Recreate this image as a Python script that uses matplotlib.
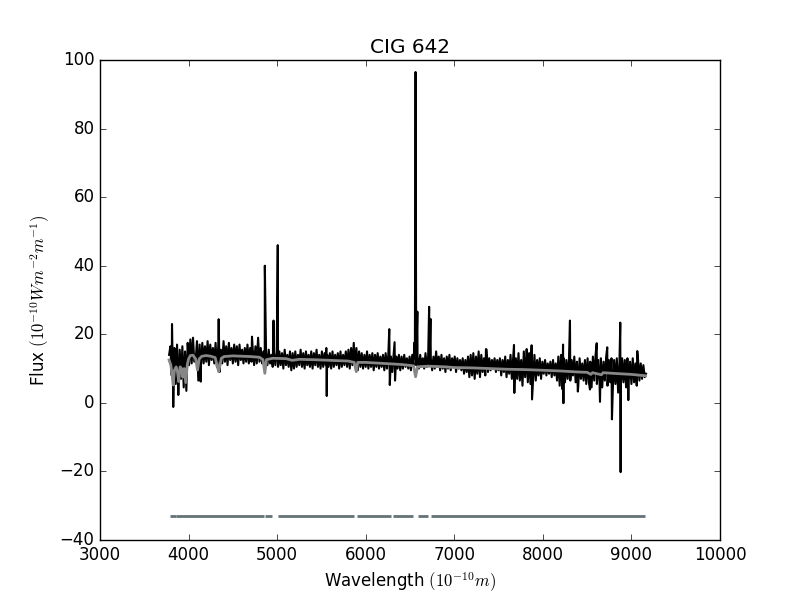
import matplotlib
matplotlib.use("Agg")
import matplotlib.pyplot as plt
import numpy as np

# === DATA ===

TITLE = "CIG 642"

# observed spectrum, sampled every 15 A from 3780 A
WAVE_START = 3780.0
WAVE_STEP = 15.0
flux_obs = [
    14.0, 16.5, 8.0, 4.0, 16.0, 5.5, 17.0, 2.5, 15.5, 7.0, 16.5, 4.5, 15.0, 3.5, 17.5, 11.0, 18.5, 11.5, 19.0, 12.0,
    12.5, 18.0, 6.5, 17.0, 11.0, 17.5, 11.5, 16.5, 12.0, 18.0, 11.0, 17.0, 12.5, 16.0, 11.5, 17.5, 10.5, 16.5, 9.0, 15.5,
    11.5, 18.0, 12.0, 16.5, 11.0, 17.5, 12.5, 16.0, 11.5, 17.0, 12.0, 16.5, 11.0, 17.0, 12.5, 15.5, 11.5, 16.0, 12.0, 17.0,
    11.5, 16.0, 12.0, 15.5, 11.0, 16.5, 11.5, 19.0, 12.0, 16.0, 11.5, 15.0, 10.0, 14.5, 11.0, 15.5, 11.5, 14.0, 10.5, 15.0,
    11.0, 14.5, 10.5, 15.0, 11.0, 14.5, 10.0, 15.5, 11.0, 14.0, 10.5, 15.0, 9.5, 14.5, 10.0, 15.0, 10.5, 14.0, 11.0, 15.5,
    10.5, 14.5, 10.0, 15.0, 11.0, 14.0, 10.5, 15.0, 10.0, 14.5, 11.0, 15.5, 10.5, 14.0, 10.0, 15.0, 10.5, 14.5, 11.0, 14.0,
    10.5, 14.5, 10.0, 15.0, 10.5, 14.0, 11.0, 14.5, 10.0, 15.0, 10.5, 14.0, 11.0, 15.0, 10.5, 15.5, 10.0, 16.0, 11.0, 17.5,
    10.5, 16.0, 9.5, 15.0, 10.5, 14.5, 10.0, 14.0, 10.5, 15.0, 10.0, 14.0, 10.5, 14.5, 9.5, 14.0, 10.5, 14.5, 10.0, 13.5,
    10.5, 14.0, 9.5, 14.5, 10.0, 14.0, 8.0, 13.5, 9.0, 14.0, 9.5, 13.5, 10.0, 14.0, 9.5, 13.5, 10.0, 14.0, 10.5, 13.0,
    10.0, 13.5, 9.5, 14.0, 10.5, 13.0, 11.0, 13.5, 10.0, 14.0, 10.5, 13.0, 10.0, 14.5, 10.5, 13.5, 11.0, 13.0, 9.5, 13.5,
    10.0, 15.0, 10.5, 13.5, 9.5, 14.0, 10.0, 13.0, 9.0, 13.5, 10.0, 14.0, 9.5, 13.0, 10.5, 13.5, 9.0, 13.0, 10.0, 12.5,
    9.5, 13.0, 8.5, 12.5, 9.0, 13.5, 7.5, 14.0, 8.0, 14.5, 7.0, 13.5, 8.5, 15.0, 7.5, 14.0, 9.0, 13.0, 8.0, 15.5,
    9.0, 13.0, 9.5, 12.5, 10.0, 13.0, 9.0, 12.5, 9.5, 13.0, 8.0, 12.5, 9.0, 13.5, 7.5, 12.5, 8.5, 14.0, 7.0, 13.5,
    5.5, 13.0, 7.0, 14.5, 6.5, 12.5, 5.0, 15.0, 7.5, 13.5, 6.0, 14.5, 5.5, 13.0, 7.0, 14.0, 6.5, 12.5, 8.0, 13.0,
    7.0, 12.0, 8.5, 12.5, 8.0, 11.5, 8.5, 12.0, 7.5, 12.5, 8.0, 11.5, 6.5, 13.5, 5.0, 14.0, 4.0, 13.0, 6.0, 12.5,
    7.0, 13.0, 6.5, 12.5, 8.0, 13.5, 6.0, 12.0, 5.0, 13.0, 7.0, 11.5, 6.5, 12.5, 5.5, 13.0, 6.0, 12.0, 4.5, 13.5,
    6.5, 14.0, 5.5, 12.5, 6.0, 13.0, 4.5, 12.0, 6.5, 13.5, 5.0, 12.5, 6.0, 13.0, 4.0, 12.5, 5.5, 13.0, 3.0, 12.0,
    5.0, 13.0, 6.0, 12.5, 4.5, 13.0, 6.5, 12.0, 5.5, 13.0, 6.0, 11.5, 5.0, 12.5, 6.5, 11.5, 7.0, 11.0, 7.5, 8.5,
]

# emission / absorption spikes and sky residuals
spike_wave = [3813, 3827, 3884, 4137, 4340, 4716, 4861, 4959, 5007, 5555, 5560,
              6266, 6272, 6326, 6331, 6548, 6563, 6583, 6716, 6731, 7358, 7674,
              7678, 7817, 7873, 7878, 8228, 8232, 8306, 8395, 8532, 8608, 8645,
              8727, 8780, 8874, 8878, 8965, 9066]
spike_flux = [23.0, -1.2, 2.3, 6.2, 24.4, 19.3, 40.0, 24.0, 46.0, 16.0, 2.0,
              21.5, 5.2, 17.7, 6.5, 17.5, 96.5, 26.6, 28.0, 24.5, 15.7, 16.9,
              2.9, 15.7, 16.8, 1.0, 17.0, -0.1, 24.0, 3.3, 3.9, 17.4, 0.3,
              16.2, -4.8, 23.4, -20.2, 0.8, 15.1]

# fitted stellar model (grey)
model_wave = [3780, 3800, 3815, 3827, 3840, 3860, 3875, 3889, 3905, 3920, 3934,
              3950, 3968, 3985, 4000, 4020, 4050, 4080, 4101, 4120, 4150, 4200,
              4250, 4300, 4340, 4370, 4400, 4500, 4600, 4700, 4800, 4840, 4861,
              4880, 4950, 5100, 5170, 5250, 5400, 5600, 5800, 5870, 5893, 5910,
              6000, 6200, 6400, 6540, 6563, 6585, 6700, 6900, 7000, 7200, 7400,
              7600, 7800, 8000, 8200, 8400, 8500, 8542, 8560, 8662, 8680, 8800,
              9000, 9160]
model_flux = [12.5, 11.0, 8.0, 5.2, 9.5, 10.5, 9.0, 6.2, 10.5, 10.0, 7.5,
              10.0, 5.9, 11.0, 12.8, 13.8, 13.9, 12.8, 9.6, 12.8, 13.6, 13.8,
              13.6, 13.2, 9.1, 13.0, 13.5, 13.7, 13.6, 13.5, 13.3, 12.6, 8.6,
              12.6, 13.0, 12.9, 12.4, 12.7, 12.6, 12.4, 12.2, 11.8, 9.1, 11.8,
              11.8, 11.5, 11.2, 10.8, 7.6, 10.5, 10.7, 10.5, 10.3, 10.2, 10.0,
              9.8, 9.7, 9.5, 9.3, 9.0, 8.9, 8.3, 8.8, 8.2, 8.8, 8.6,
              8.3, 7.9]

# good-pixel mask segments (start, end)
mask_start = [3790, 3862, 4862, 5010, 5902, 6308, 6590, 6737]
mask_end = [3855, 4852, 4942, 5868, 6286, 6534, 6700, 9153]
MASK_LEVEL = -33.0

# === BUILD SPECTRUM ===

wave_obs = WAVE_START + WAVE_STEP * np.arange(len(flux_obs))
wave_all = np.concatenate([wave_obs, spike_wave])
flux_all = np.concatenate([flux_obs, spike_flux])
order = np.argsort(wave_all, kind="stable")
wave_all = wave_all[order]
flux_all = flux_all[order]

# === PLOT ===

plt.style.use("classic")
fig = plt.figure(figsize=(8, 6), dpi=100, facecolor="white")
ax = fig.add_subplot(111)

ax.plot(wave_all, flux_all, color="black", linewidth=1.5)
ax.plot(model_wave, model_flux, color="0.53", linewidth=2.0)
for s, e in zip(mask_start, mask_end):
    ax.plot([s, e], [MASK_LEVEL, MASK_LEVEL], color="#647378",
            linewidth=2.0, solid_capstyle="butt")

ax.set_xlim(3000, 10000)
ax.set_ylim(-40, 100)
ax.set_title(TITLE)
ax.set_xlabel(r"Wavelength $(10^{-10}m)$")
ax.set_ylabel(r"Flux $(10^{-10}Wm^{-2}m^{-1})$")

fig.savefig("out.png", dpi=100, facecolor="white")
